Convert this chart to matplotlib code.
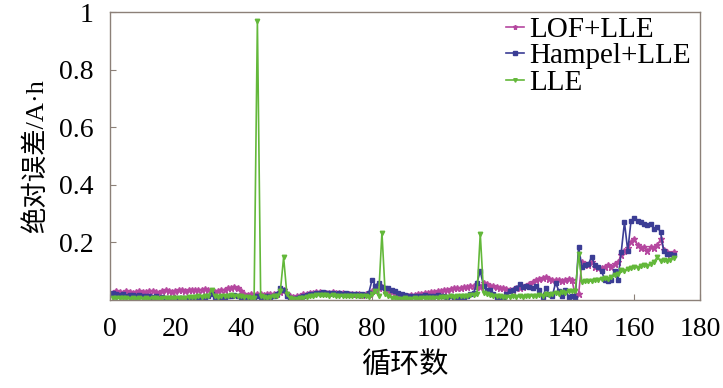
import matplotlib
matplotlib.use("Agg")
import matplotlib.pyplot as plt
import numpy as np

# cycles 1..172
cycles = list(range(1, 173))

lof_lle = [
    0.025, 0.03, 0.028, 0.025, 0.03, 0.028, 0.025, 0.027, 0.03, 0.028,
    0.026, 0.03, 0.032, 0.028, 0.025, 0.03, 0.033, 0.03, 0.028, 0.032,
    0.034, 0.033, 0.03, 0.035, 0.036, 0.034, 0.033, 0.036, 0.037, 0.035,
    0.03, 0.028, 0.03, 0.033, 0.036, 0.04, 0.042, 0.045, 0.04, 0.03,
    0.022, 0.018, 0.02, 0.016, 0.02, 0.022, 0.018, 0.02, 0.022, 0.019,
    0.02, 0.028, 0.035, 0.02, 0.012, 0.01, 0.012, 0.015, 0.02, 0.022,
    0.024, 0.025, 0.026, 0.027, 0.025, 0.024, 0.025, 0.026, 0.024, 0.023,
    0.024, 0.022, 0.022, 0.02, 0.021, 0.02, 0.018, 0.02, 0.022, 0.03,
    0.035, 0.04, 0.045, 0.035, 0.03, 0.028, 0.022, 0.018, 0.015, 0.014,
    0.015, 0.016, 0.018, 0.02, 0.022, 0.024, 0.025, 0.027, 0.028, 0.03,
    0.032, 0.033, 0.035, 0.038, 0.04, 0.042, 0.04, 0.044, 0.046, 0.048,
    0.05, 0.05, 0.045, 0.06, 0.055, 0.05, 0.048, 0.045, 0.042, 0.04,
    0.038, 0.036, 0.035, 0.04, 0.042, 0.045, 0.05, 0.055, 0.062, 0.07,
    0.072, 0.075, 0.078, 0.072, 0.07, 0.068, 0.07, 0.065, 0.07, 0.072,
    0.068, 0.015, 0.02, 0.13, 0.125, 0.12, 0.13, 0.115, 0.11, 0.11,
    0.115, 0.12, 0.115, 0.125, 0.13, 0.155, 0.17, 0.18, 0.2, 0.21,
    0.19, 0.18, 0.185, 0.17, 0.185, 0.18, 0.19, 0.21, 0.175, 0.165,
    0.16, 0.165,
]

hampel_lle = [
    0.025, 0.02, 0.018, 0.02, 0.015, 0.018, 0.016, 0.015, 0.018, 0.014,
    0.015, 0.012, 0.01, 0.012, 0.008, 0.01, 0.006, 0.005, 0.006, 0.005,
    0.006, 0.008, 0.007, 0.005, 0.008, 0.01, 0.008, 0.006, 0.008, 0.015,
    0.02, 0.01, 0.004, 0.006, 0.008, 0.012, 0.014, 0.016, 0.012, 0.01,
    0.008, 0.01, 0.006, 0.008, 0.012, 0.01, 0.008, 0.012, 0.01, 0.015,
    0.02, 0.04, 0.035, 0.015, 0.005, 0.004, 0.006, 0.01, 0.014, 0.018,
    0.02, 0.022, 0.024, 0.025, 0.026, 0.024, 0.025, 0.024, 0.022, 0.024,
    0.022, 0.023, 0.02, 0.022, 0.02, 0.018, 0.02, 0.018, 0.025, 0.07,
    0.05, 0.06, 0.045, 0.04, 0.04, 0.035, 0.03, 0.025, 0.02, 0.018,
    0.015, 0.014, 0.012, 0.015, 0.014, 0.016, 0.014, 0.012, 0.014, 0.016,
    0.015, 0.012, 0.01, 0.014, 0.01, 0.008, 0.002, 0.01, 0.012, 0.02,
    0.025, 0.06, 0.1, 0.05, 0.035, 0.035, 0.02, 0.008, 0.005, 0.008,
    0.02, 0.03, 0.035, 0.04, 0.055, 0.045, 0.05, 0.045, 0.04, 0.048,
    0.035, 0.01, 0.04, 0.02, 0.015, 0.06, 0.03, 0.015, 0.035, 0.01,
    0.015, 0.008, 0.185, 0.115, 0.12, 0.125, 0.15, 0.12, 0.115, 0.1,
    0.07, 0.065, 0.07, 0.1, 0.07, 0.165, 0.27, 0.17, 0.275, 0.283,
    0.275, 0.27, 0.265, 0.26, 0.262, 0.248, 0.255, 0.235, 0.17, 0.16,
    0.16, 0.155,
]

lle = [
    0.008, 0.006, 0.005, 0.006, 0.005, 0.004, 0.005, 0.004, 0.005, 0.004,
    0.005, 0.004, 0.006, 0.005, 0.004, 0.005, 0.006, 0.005, 0.007, 0.006,
    0.008, 0.007, 0.008, 0.01, 0.009, 0.01, 0.012, 0.011, 0.012, 0.013,
    0.035, 0.012, 0.01, 0.012, 0.015, 0.015, 0.016, 0.015, 0.014, 0.012,
    0.01, 0.01, 0.008, 0.008, 0.968, 0.012, 0.01, 0.008, 0.01, 0.012,
    0.015, 0.03, 0.148, 0.02, 0.005, 0.004, 0.003, 0.006, 0.008, 0.01,
    0.012, 0.014, 0.016, 0.016, 0.017, 0.016, 0.015, 0.016, 0.015, 0.014,
    0.015, 0.014, 0.013, 0.014, 0.013, 0.012, 0.012, 0.013, 0.01, 0.02,
    0.03, 0.015, 0.234, 0.02, 0.012, 0.008, 0.006, 0.004, 0.004, 0.005,
    0.004, 0.004, 0.005, 0.004, 0.006, 0.005, 0.006, 0.008, 0.007, 0.008,
    0.009, 0.01, 0.01, 0.012, 0.01, 0.012, 0.014, 0.013, 0.015, 0.016,
    0.018, 0.02, 0.23, 0.025, 0.02, 0.018, 0.015, 0.012, 0.012, 0.01,
    0.01, 0.011, 0.012, 0.01, 0.012, 0.011, 0.012, 0.013, 0.015, 0.014,
    0.016, 0.015, 0.02, 0.018, 0.02, 0.025, 0.022, 0.028, 0.025, 0.03,
    0.03, 0.032, 0.16, 0.062, 0.065, 0.064, 0.066, 0.068, 0.07, 0.072,
    0.075, 0.072, 0.08, 0.085, 0.09, 0.105, 0.1, 0.108, 0.11, 0.115,
    0.112, 0.118, 0.12, 0.118, 0.125, 0.13, 0.15, 0.135, 0.138, 0.135,
    0.14, 0.145,
]

x_ticks = [0, 20, 40, 60, 80, 100, 120, 140, 160, 180]
y_ticks = [0.2, 0.4, 0.6, 0.8, 1.0]
y_tick_labels = ["0.2", "0.4", "0.6", "0.8", "1"]

fonts = ["Liberation Serif", "Noto Sans CJK SC"]
spine_col = "#8c8078"

fig = plt.figure(figsize=(7.23, 3.88), dpi=100)
ax = fig.add_axes([0.152, 0.227, 0.816, 0.742])

ax.plot(cycles, lof_lle, color="#b5479f", marker="*", markersize=4.5, lw=1.2, label="LOF+LLE")
ax.plot(cycles, hampel_lle, color="#3b3d95", marker="s", markersize=2.8, lw=1.2, label="Hampel+LLE")
ax.plot(cycles, lle, color="#63b83a", marker="v", markersize=3.2, lw=1.2, label="LLE")

ax.set_xlim(0, 180)
ax.set_ylim(0, 1)
ax.set_xticks(x_ticks)
ax.set_xticklabels([str(t) for t in x_ticks], family=fonts, fontsize=20)
ax.set_yticks(y_ticks)
ax.set_yticklabels(y_tick_labels, family=fonts, fontsize=20)
ax.tick_params(axis="both", direction="in", length=4, color=spine_col)
ax.tick_params(axis="x", pad=12)
ax.tick_params(axis="y", pad=12)

for s in ax.spines.values():
    s.set_color(spine_col)
    s.set_linewidth(1.0)

ax.set_xlabel("循环数", family=fonts, fontsize=21, labelpad=7)
ax.set_ylabel("绝对误差/A·h", family=fonts, fontsize=19, labelpad=8)

leg = ax.legend(loc="upper right", bbox_to_anchor=(1.005, 1.025), frameon=False,
                prop={"family": fonts, "size": 21}, handlelength=0.6,
                handletextpad=0.2, labelspacing=0.0, borderaxespad=0,
                markerscale=0.8)

fig.savefig("out.png", dpi=100)
